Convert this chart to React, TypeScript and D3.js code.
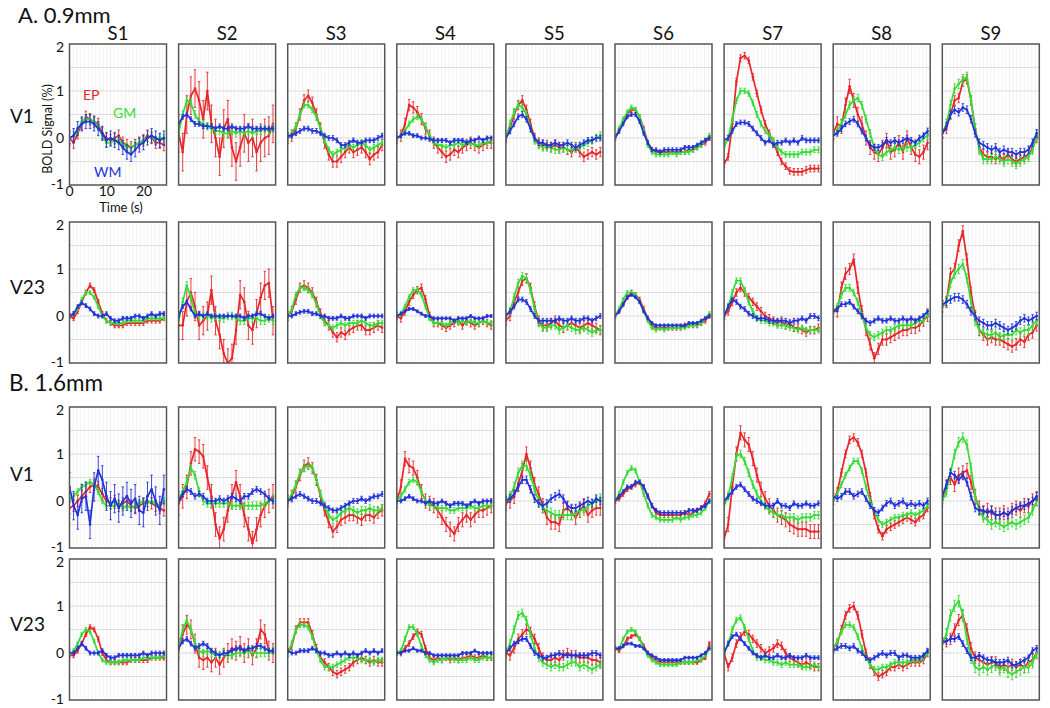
import React from "react";
import * as d3 from "d3";

// ---------- data ----------
const TIME = [0, 1.1, 2.2, 3.3, 4.4, 5.5, 6.6, 7.7, 8.8, 9.9, 11, 12.1, 13.2, 14.3, 15.4, 16.5, 17.6, 18.7, 19.8, 20.9, 22, 23.1, 24.2, 25.3];
const SUBJECTS = ["S1", "S2", "S3", "S4", "S5", "S6", "S7", "S8", "S9"];
const ROW_LABELS = ["V1", "V23", "V1", "V23"];
const SECTIONS = ["A. 0.9mm", "B. 1.6mm"];
const Y_TICKS = [2, 1, 0, -1];
const X_TICKS = [0, 10, 20];
const SERIES_NAMES = ["EP", "GM", "WM"];

const A_V1_EP = [
  [0, -0.1, 0.1, 0.3, 0.45, 0.4, 0.35, 0.3, 0.1, 0, -0.05, 0, 0.05, -0.1, -0.15, -0.2, -0.15, -0.1, -0.05, 0.05, 0, -0.1, -0.1, -0.15],
  [0.1, -0.3, 0.5, 0.9, 1.05, 0.8, 0.4, 1.0, 0.3, 0.0, -0.4, 0.2, 0.4, -0.2, -0.5, -0.2, 0.1, -0.1, 0.0, -0.3, -0.1, 0.0, 0.05, 0.3],
  [0, 0.05, 0.2, 0.5, 0.8, 0.9, 0.75, 0.5, 0.2, -0.1, -0.35, -0.5, -0.5, -0.4, -0.3, -0.2, -0.3, -0.25, -0.2, -0.3, -0.45, -0.35, -0.3, -0.15],
  [0, 0.05, 0.3, 0.7, 0.65, 0.55, 0.4, 0.2, 0.05, -0.1, -0.2, -0.3, -0.4, -0.35, -0.25, -0.3, -0.2, -0.15, -0.1, -0.15, -0.2, -0.15, -0.1, -0.1],
  [0, 0.2, 0.5, 0.7, 0.8, 0.6, 0.3, 0.0, -0.1, -0.15, -0.15, -0.2, -0.15, -0.2, -0.2, -0.25, -0.3, -0.2, -0.3, -0.4, -0.35, -0.3, -0.35, -0.3],
  [0, 0.15, 0.35, 0.5, 0.6, 0.6, 0.45, 0.2, -0.1, -0.25, -0.3, -0.3, -0.3, -0.3, -0.3, -0.3, -0.3, -0.3, -0.25, -0.25, -0.2, -0.15, -0.1, 0.0],
  [-0.55, -0.4, 0.3, 1.2, 1.7, 1.75, 1.65, 1.3, 0.95, 0.6, 0.3, 0.1, -0.1, -0.3, -0.5, -0.6, -0.7, -0.72, -0.72, -0.72, -0.68, -0.65, -0.65, -0.65],
  [0.1, 0.3, 0.25, 0.7, 1.1, 0.8, 0.5, 0.3, 0.0, -0.2, -0.3, -0.35, -0.2, -0.05, -0.3, -0.25, -0.1, -0.3, 0.0, -0.2, -0.35, -0.4, -0.3, -0.1],
  [0.1, 0.2, 0.5, 0.8, 0.85, 1.2, 1.25, 0.8, 0.2, -0.2, -0.35, -0.4, -0.4, -0.45, -0.4, -0.45, -0.35, -0.45, -0.5, -0.45, -0.4, -0.35, -0.2, 0.0],
];
const A_V1_GM = [
  [0, 0.05, 0.15, 0.35, 0.4, 0.4, 0.35, 0.25, 0.05, -0.1, -0.1, -0.05, -0.05, -0.15, -0.2, -0.2, -0.15, -0.1, -0.05, 0, 0.05, -0.05, 0, 0],
  [0.1, 0.5, 0.8, 0.75, 0.5, 0.35, 0.3, 0.25, 0.2, 0.15, 0.15, 0.1, 0.1, 0.15, 0.1, 0.15, 0.1, 0.15, 0.1, 0.15, 0.15, 0.2, 0.15, 0.2],
  [0, 0.1, 0.25, 0.5, 0.7, 0.7, 0.6, 0.45, 0.2, -0.05, -0.25, -0.35, -0.3, -0.25, -0.2, -0.15, -0.2, -0.15, -0.1, -0.15, -0.25, -0.2, -0.15, -0.1],
  [0, 0.05, 0.15, 0.3, 0.4, 0.45, 0.4, 0.25, 0.05, -0.1, -0.15, -0.15, -0.2, -0.15, -0.15, -0.1, -0.15, -0.1, -0.1, -0.15, -0.15, -0.1, -0.1, -0.05],
  [0, 0.3, 0.55, 0.7, 0.65, 0.5, 0.2, -0.05, -0.15, -0.2, -0.2, -0.2, -0.25, -0.25, -0.2, -0.25, -0.25, -0.2, -0.2, -0.15, -0.1, -0.05, 0, 0.05],
  [0, 0.2, 0.4, 0.55, 0.65, 0.6, 0.45, 0.15, -0.15, -0.3, -0.35, -0.35, -0.35, -0.35, -0.3, -0.35, -0.3, -0.3, -0.3, -0.25, -0.2, -0.15, -0.05, 0.05],
  [-0.2, 0.0, 0.4, 0.8, 1.0, 1.0, 0.95, 0.75, 0.5, 0.3, 0.15, 0.05, -0.05, -0.2, -0.3, -0.35, -0.35, -0.35, -0.35, -0.3, -0.3, -0.3, -0.25, -0.25],
  [0.05, 0.15, 0.3, 0.5, 0.7, 0.8, 0.85, 0.7, 0.4, 0.1, -0.2, -0.35, -0.4, -0.3, -0.25, -0.2, -0.25, -0.2, -0.2, -0.2, -0.15, -0.1, 0.0, 0.05],
  [0.1, 0.3, 0.7, 1.05, 1.15, 1.25, 1.3, 0.8, 0.2, -0.25, -0.45, -0.45, -0.45, -0.4, -0.45, -0.5, -0.45, -0.5, -0.55, -0.5, -0.45, -0.4, -0.25, 0.05],
];
const A_V1_WM = [
  [0, 0.05, 0.2, 0.3, 0.35, 0.35, 0.3, 0.2, 0.1, -0.05, 0, -0.05, -0.1, -0.2, -0.3, -0.35, -0.25, -0.15, -0.1, 0, 0.05, 0, -0.05, 0],
  [0.3, 0.45, 0.5, 0.4, 0.3, 0.3, 0.25, 0.25, 0.25, 0.2, 0.25, 0.2, 0.2, 0.25, 0.2, 0.2, 0.2, 0.25, 0.2, 0.2, 0.2, 0.2, 0.2, 0.2],
  [0.05, 0.05, 0.1, 0.15, 0.2, 0.2, 0.15, 0.15, 0.1, 0.05, 0.0, 0.0, -0.05, -0.15, -0.15, -0.1, -0.05, -0.1, -0.1, -0.05, -0.05, -0.05, 0.0, 0.05],
  [0, 0.05, 0.1, 0.1, 0.05, 0.05, 0.0, 0.0, -0.02, -0.05, -0.05, -0.05, -0.05, -0.1, -0.05, -0.05, -0.05, -0.1, -0.05, -0.05, 0, -0.05, 0, 0],
  [0, 0.15, 0.3, 0.45, 0.5, 0.4, 0.2, 0.0, -0.1, -0.1, -0.15, -0.15, -0.1, -0.15, -0.15, -0.1, -0.15, -0.2, -0.15, -0.1, -0.05, -0.05, 0, 0],
  [0, 0.15, 0.3, 0.45, 0.5, 0.5, 0.35, 0.1, -0.1, -0.25, -0.25, -0.3, -0.25, -0.25, -0.25, -0.25, -0.25, -0.2, -0.2, -0.2, -0.15, -0.1, -0.05, 0.0],
  [-0.05, 0.0, 0.15, 0.3, 0.33, 0.33, 0.3, 0.2, 0.1, 0.0, -0.1, -0.05, -0.15, -0.1, -0.1, -0.05, -0.1, -0.05, -0.1, 0.0, -0.05, -0.05, -0.05, -0.05],
  [0.05, 0.1, 0.2, 0.3, 0.35, 0.4, 0.3, 0.15, 0.0, -0.15, -0.2, -0.2, -0.15, -0.05, -0.1, -0.05, -0.1, -0.05, 0.0, -0.05, -0.1, 0.0, 0.05, 0.15],
  [0.1, 0.25, 0.5, 0.6, 0.55, 0.65, 0.6, 0.4, 0.1, -0.1, -0.15, -0.2, -0.25, -0.2, -0.3, -0.25, -0.3, -0.3, -0.35, -0.3, -0.3, -0.25, -0.1, 0.1],
];

const A_V23_EP = [
  [0, -0.05, 0.1, 0.3, 0.5, 0.65, 0.55, 0.3, 0.05, -0.1, -0.15, -0.2, -0.2, -0.2, -0.15, -0.15, -0.15, -0.15, -0.15, -0.1, -0.1, -0.1, -0.1, -0.05],
  [-0.2, -0.2, 0.3, 0.5, 0.2, -0.2, -0.1, 0.0, 0.55, -0.1, -0.4, -0.8, -1.0, -0.9, -0.3, 0.45, 0.3, -0.2, -0.3, 0.05, 0.4, 0.65, 0.7, -0.1],
  [0, 0.1, 0.35, 0.6, 0.65, 0.6, 0.5, 0.3, 0.05, -0.1, -0.2, -0.35, -0.45, -0.35, -0.4, -0.3, -0.25, -0.2, -0.2, -0.3, -0.3, -0.25, -0.2, -0.25],
  [0, -0.05, 0.1, 0.3, 0.45, 0.55, 0.6, 0.35, 0.0, -0.15, -0.15, -0.2, -0.25, -0.2, -0.15, -0.1, -0.2, -0.1, -0.15, -0.2, -0.15, -0.1, -0.15, -0.2],
  [-0.1, 0.0, 0.3, 0.5, 0.75, 0.8, 0.6, 0.2, -0.1, -0.2, -0.2, -0.15, -0.1, -0.2, -0.25, -0.2, -0.15, -0.2, -0.25, -0.2, -0.15, -0.2, -0.25, -0.3],
  [0, 0.1, 0.25, 0.4, 0.5, 0.45, 0.35, 0.15, -0.05, -0.2, -0.25, -0.25, -0.25, -0.25, -0.25, -0.25, -0.25, -0.2, -0.2, -0.2, -0.2, -0.15, -0.1, 0.0],
  [0, 0.1, 0.3, 0.5, 0.6, 0.5, 0.4, 0.3, 0.2, 0.1, 0.0, -0.05, -0.1, -0.15, -0.1, -0.2, -0.15, -0.25, -0.25, -0.3, -0.35, -0.3, -0.3, -0.25],
  [0.1, 0.1, 0.6, 0.9, 1.0, 1.2, 0.6, 0.1, -0.3, -0.6, -0.9, -0.7, -0.5, -0.5, -0.45, -0.4, -0.35, -0.3, -0.3, -0.25, -0.25, -0.2, -0.1, 0.0],
  [0.2, 0.3, 0.9, 1.0, 1.5, 1.8, 1.2, 0.5, 0.0, -0.3, -0.4, -0.5, -0.45, -0.5, -0.5, -0.55, -0.6, -0.65, -0.6, -0.5, -0.55, -0.4, -0.35, -0.2],
];
const A_V23_GM = [
  [0, 0.05, 0.15, 0.35, 0.5, 0.5, 0.4, 0.2, 0.0, -0.1, -0.15, -0.15, -0.15, -0.15, -0.1, -0.1, -0.1, -0.1, -0.1, -0.05, -0.05, -0.05, -0.05, -0.05],
  [-0.1, 0.3, 0.65, 0.4, 0.05, 0, 0, 0, -0.05, 0, -0.05, -0.05, 0, 0, -0.05, -0.1, -0.1, -0.05, -0.05, -0.05, -0.1, -0.1, -0.05, -0.1],
  [0, 0.15, 0.45, 0.6, 0.6, 0.55, 0.45, 0.25, 0.0, -0.15, -0.2, -0.25, -0.2, -0.15, -0.2, -0.15, -0.15, -0.15, -0.1, -0.15, -0.2, -0.2, -0.15, -0.15],
  [0, 0.05, 0.2, 0.4, 0.55, 0.55, 0.45, 0.2, -0.05, -0.15, -0.15, -0.15, -0.2, -0.15, -0.1, -0.15, -0.1, -0.15, -0.1, -0.15, -0.15, -0.1, -0.15, -0.15],
  [0, 0.1, 0.4, 0.7, 0.85, 0.8, 0.55, 0.15, -0.15, -0.25, -0.25, -0.2, -0.2, -0.3, -0.25, -0.2, -0.25, -0.3, -0.3, -0.25, -0.3, -0.35, -0.3, -0.3],
  [0, 0.15, 0.35, 0.5, 0.5, 0.45, 0.3, 0.1, -0.1, -0.25, -0.3, -0.25, -0.3, -0.25, -0.25, -0.25, -0.25, -0.25, -0.2, -0.2, -0.2, -0.15, -0.05, 0.05],
  [0, 0.2, 0.5, 0.75, 0.75, 0.55, 0.3, 0.1, -0.05, -0.1, -0.1, -0.15, -0.15, -0.2, -0.2, -0.2, -0.25, -0.25, -0.3, -0.25, -0.3, -0.3, -0.3, -0.3],
  [0.1, 0.2, 0.45, 0.6, 0.6, 0.5, 0.3, 0.0, -0.25, -0.4, -0.45, -0.4, -0.35, -0.3, -0.3, -0.25, -0.2, -0.2, -0.2, -0.2, -0.15, -0.1, -0.1, 0.05],
  [0.2, 0.3, 0.7, 0.9, 1.0, 1.1, 0.8, 0.3, -0.1, -0.3, -0.35, -0.4, -0.4, -0.35, -0.45, -0.4, -0.4, -0.4, -0.3, -0.35, -0.3, -0.3, -0.2, -0.1],
];
const A_V23_WM = [
  [0, 0.05, 0.2, 0.28, 0.22, 0.15, 0.05, 0.0, 0.0, 0.05, -0.05, -0.1, -0.1, -0.05, -0.05, -0.05, 0, 0, -0.05, 0, 0.05, 0, 0.05, 0.05],
  [0, 0.2, 0.3, 0.15, 0.0, 0.05, 0, 0.05, 0, 0, 0, 0, 0, 0, 0, 0, -0.05, 0, 0, 0.05, 0.05, 0, -0.05, 0],
  [0, 0.0, 0.05, 0.08, 0.1, 0.1, 0.05, 0.05, 0.0, 0.0, -0.05, -0.05, -0.05, 0, -0.05, -0.05, 0, 0, 0, -0.05, 0, 0, 0, 0],
  [0, 0.05, 0.1, 0.15, 0.15, 0.1, 0.05, 0.0, 0, -0.05, -0.05, -0.05, -0.05, -0.05, -0.1, -0.05, -0.05, -0.05, 0, -0.05, -0.05, -0.05, 0, 0],
  [0, 0.1, 0.2, 0.35, 0.35, 0.3, 0.15, 0.0, -0.1, -0.1, -0.1, -0.1, -0.1, -0.05, -0.1, -0.1, -0.05, -0.1, -0.1, -0.05, -0.05, -0.1, -0.05, 0],
  [0, 0.1, 0.25, 0.4, 0.45, 0.4, 0.3, 0.1, -0.05, -0.15, -0.2, -0.2, -0.2, -0.2, -0.2, -0.2, -0.2, -0.2, -0.15, -0.15, -0.15, -0.1, -0.05, 0.0],
  [0, 0.2, 0.35, 0.3, 0.2, 0.15, 0.05, 0.0, -0.05, -0.05, -0.05, -0.1, -0.1, -0.1, -0.1, -0.1, -0.15, -0.1, -0.1, -0.05, -0.1, 0, 0, -0.05],
  [0.1, 0.15, 0.25, 0.25, 0.3, 0.2, 0.1, 0.0, -0.1, -0.15, -0.1, -0.05, -0.1, -0.1, -0.05, -0.1, -0.1, -0.05, -0.1, -0.05, -0.1, -0.05, 0, 0.1],
  [0.25, 0.3, 0.35, 0.4, 0.4, 0.35, 0.25, 0.1, 0.0, -0.1, -0.15, -0.2, -0.2, -0.15, -0.2, -0.25, -0.3, -0.25, -0.2, -0.1, -0.05, -0.1, -0.05, 0.0],
];

const B_V1_EP = [
  [-0.15, -0.1, 0.0, 0.1, 0.2, 0.3, 0.35, 0.3, 0.15, 0.0, -0.05, 0.0, -0.1, -0.05, 0.0, -0.1, -0.15, -0.1, -0.05, 0.0, -0.05, -0.1, -0.15, -0.2],
  [-0.05, 0.1, 0.3, 0.8, 1.1, 1.05, 0.95, 0.5, 0.1, -0.5, -0.8, -0.6, -0.2, 0.1, 0.4, 0.1, -0.3, -0.6, -0.9, -0.6, -0.3, -0.1, 0.0, 0.1],
  [0, 0.1, 0.3, 0.55, 0.75, 0.8, 0.7, 0.45, 0.1, -0.2, -0.45, -0.65, -0.55, -0.4, -0.35, -0.3, -0.3, -0.35, -0.4, -0.3, -0.3, -0.35, -0.25, -0.2],
  [0.0, 0.3, 0.9, 0.75, 0.7, 0.5, 0.2, 0.0, -0.05, -0.1, -0.2, -0.35, -0.5, -0.6, -0.7, -0.5, -0.4, -0.3, -0.4, -0.3, -0.2, -0.2, -0.15, -0.1],
  [-0.05, 0.0, 0.1, 0.35, 0.65, 1.0, 0.7, 0.35, 0.15, -0.1, -0.35, -0.45, -0.45, -0.5, -0.2, -0.15, -0.25, -0.35, -0.2, -0.1, -0.3, -0.2, -0.15, -0.15],
  [0.0, 0.05, 0.15, 0.25, 0.3, 0.35, 0.4, 0.3, 0.1, -0.1, -0.25, -0.3, -0.3, -0.3, -0.3, -0.3, -0.3, -0.25, -0.3, -0.25, -0.2, -0.15, -0.05, 0.15],
  [-0.8, -0.5, 0.3, 1.0, 1.45, 1.3, 1.2, 0.9, 0.55, 0.25, 0.05, -0.1, -0.2, -0.3, -0.35, -0.4, -0.5, -0.55, -0.6, -0.6, -0.6, -0.65, -0.65, -0.65],
  [0.0, 0.2, 0.6, 1.0, 1.3, 1.35, 1.25, 1.0, 0.6, 0.1, -0.3, -0.6, -0.75, -0.6, -0.55, -0.5, -0.45, -0.4, -0.35, -0.4, -0.45, -0.35, -0.3, -0.15],
  [0.1, 0.3, 0.5, 0.35, 0.55, 0.6, 0.65, 0.4, 0.1, -0.15, -0.25, -0.2, -0.25, -0.3, -0.3, -0.25, -0.3, -0.2, -0.15, -0.2, -0.1, -0.1, 0.0, 0.05],
];
const B_V1_GM = [
  [0.05, 0.1, 0.2, 0.3, 0.35, 0.4, 0.35, 0.2, 0.0, -0.1, -0.1, -0.1, -0.05, -0.15, -0.1, -0.15, -0.1, -0.05, 0.0, -0.05, 0.0, -0.05, -0.1, 0.0],
  [0.05, 0.2, 0.4, 0.7, 0.55, 0.2, 0.0, -0.05, -0.05, -0.05, -0.05, -0.05, -0.05, -0.1, -0.1, -0.1, -0.1, -0.1, -0.1, -0.1, -0.1, -0.05, 0.0, 0.05],
  [0.0, 0.15, 0.35, 0.6, 0.7, 0.75, 0.7, 0.45, 0.15, -0.1, -0.3, -0.4, -0.35, -0.25, -0.2, -0.15, -0.2, -0.25, -0.2, -0.2, -0.15, -0.2, -0.2, -0.15],
  [0.0, 0.1, 0.25, 0.4, 0.45, 0.4, 0.2, 0.0, -0.1, -0.1, -0.15, -0.15, -0.15, -0.2, -0.2, -0.15, -0.15, -0.15, -0.1, -0.15, -0.15, -0.1, -0.1, -0.1],
  [0.0, 0.1, 0.3, 0.6, 0.75, 0.75, 0.55, 0.25, 0.0, -0.15, -0.2, -0.25, -0.3, -0.3, -0.3, -0.3, -0.3, -0.25, -0.2, -0.2, -0.1, -0.05, 0.0, 0.05],
  [0.0, 0.15, 0.4, 0.6, 0.7, 0.65, 0.4, 0.15, -0.1, -0.3, -0.35, -0.4, -0.4, -0.4, -0.4, -0.35, -0.4, -0.35, -0.35, -0.3, -0.3, -0.25, -0.15, 0.0],
  [-0.1, 0.1, 0.5, 0.95, 1.0, 0.85, 0.6, 0.35, 0.15, 0.0, -0.1, -0.2, -0.25, -0.3, -0.3, -0.35, -0.35, -0.35, -0.4, -0.35, -0.35, -0.35, -0.3, -0.3],
  [0.0, 0.15, 0.35, 0.55, 0.7, 0.85, 0.85, 0.65, 0.3, 0.0, -0.2, -0.4, -0.5, -0.45, -0.4, -0.35, -0.35, -0.3, -0.3, -0.25, -0.3, -0.25, -0.2, -0.1],
  [0.0, 0.2, 0.6, 1.0, 1.25, 1.35, 1.2, 0.7, 0.1, -0.2, -0.35, -0.4, -0.5, -0.45, -0.5, -0.55, -0.5, -0.45, -0.5, -0.45, -0.4, -0.35, -0.2, 0.0],
];
const B_V1_WM = [
  [0.3, -0.1, -0.3, 0.05, 0.1, -0.5, 0.3, 0.65, 0.45, 0.1, -0.1, 0.05, -0.15, 0.0, 0.1, -0.05, 0.05, -0.2, -0.25, 0.1, 0.25, 0.0, -0.2, 0.25],
  [0.0, 0.15, 0.25, 0.2, 0.1, 0.15, 0.1, 0.0, 0.0, 0.0, 0.05, 0.0, 0.05, 0.1, 0.05, 0.0, 0.1, 0.1, 0.2, 0.25, 0.2, 0.15, 0.05, 0.0],
  [0, 0.05, 0.1, 0.15, 0.1, 0.05, 0.0, 0.0, -0.05, -0.1, -0.15, -0.2, -0.2, -0.15, -0.1, -0.05, 0.0, 0.0, 0.05, 0.0, 0.05, 0.1, 0.1, 0.15],
  [0.0, 0.0, 0.05, 0.1, 0.05, 0.0, 0.0, -0.05, 0, -0.05, -0.05, 0.0, -0.05, -0.1, -0.05, -0.05, -0.05, -0.1, -0.05, 0, -0.05, 0, 0, 0.0],
  [0.0, 0.05, 0.15, 0.3, 0.45, 0.45, 0.25, 0.05, -0.05, -0.1, -0.05, 0.05, 0.1, 0.15, 0.05, -0.1, -0.15, -0.15, -0.1, -0.05, 0.0, -0.05, 0.05, 0.0],
  [0.0, 0.1, 0.2, 0.3, 0.3, 0.4, 0.4, 0.3, 0.1, -0.1, -0.2, -0.25, -0.25, -0.25, -0.25, -0.25, -0.25, -0.25, -0.2, -0.2, -0.2, -0.15, -0.1, 0.0],
  [0.0, 0.1, 0.2, 0.3, 0.35, 0.25, 0.15, 0.05, 0.0, -0.05, -0.1, -0.1, -0.1, 0.0, -0.1, -0.1, -0.15, -0.05, -0.1, -0.1, -0.05, -0.1, -0.1, -0.05],
  [0.1, 0.05, 0.1, 0.2, 0.2, 0.1, 0.15, 0.2, 0.05, -0.1, -0.2, -0.25, -0.15, -0.05, 0.0, -0.1, -0.05, 0.0, -0.1, -0.05, -0.1, -0.05, -0.1, 0.0],
  [0.1, 0.35, 0.6, 0.55, 0.45, 0.55, 0.4, 0.1, -0.15, -0.2, -0.2, -0.25, -0.2, -0.3, -0.3, -0.25, -0.3, -0.2, -0.15, -0.1, -0.1, -0.05, 0.0, 0.1],
];

const B_V23_EP = [
  [-0.05, -0.05, 0.05, 0.2, 0.4, 0.55, 0.5, 0.3, 0.0, -0.15, -0.2, -0.2, -0.2, -0.2, -0.2, -0.15, -0.15, -0.15, -0.15, -0.15, -0.1, -0.1, -0.1, -0.1],
  [0.1, 0.4, 0.6, 0.5, 0.2, -0.1, -0.15, -0.1, -0.2, -0.1, -0.25, -0.1, 0.0, 0.1, 0.05, 0.15, 0.0, 0.1, -0.05, 0.1, 0.5, 0.4, 0.05, 0.0],
  [0.0, 0.15, 0.5, 0.65, 0.65, 0.65, 0.4, 0.1, -0.1, -0.2, -0.3, -0.4, -0.45, -0.4, -0.35, -0.3, -0.2, -0.15, -0.1, -0.15, -0.2, -0.15, -0.2, -0.2],
  [0.0, 0.0, 0.1, 0.2, 0.35, 0.45, 0.4, 0.1, -0.1, -0.15, -0.1, -0.15, -0.1, -0.15, -0.1, -0.15, -0.1, -0.1, -0.05, -0.1, -0.1, -0.05, -0.1, -0.1],
  [0.0, -0.05, 0.1, 0.3, 0.4, 0.5, 0.45, 0.3, 0.1, -0.1, -0.15, -0.15, -0.1, -0.15, -0.05, 0.0, -0.05, -0.05, -0.1, -0.1, -0.1, -0.15, -0.15, -0.2],
  [0.1, 0.05, 0.15, 0.3, 0.35, 0.4, 0.3, 0.15, 0.0, -0.1, -0.15, -0.2, -0.2, -0.2, -0.2, -0.2, -0.2, -0.2, -0.2, -0.2, -0.2, -0.15, -0.1, 0.2],
  [0.0, -0.3, -0.1, 0.2, 0.35, 0.45, 0.4, 0.3, 0.2, 0.1, 0.0, 0.05, 0.1, 0.2, 0.15, 0.0, -0.1, -0.15, -0.2, -0.25, -0.2, -0.25, -0.3, -0.3],
  [0.1, 0.2, 0.5, 0.8, 0.95, 1.0, 0.8, 0.4, 0.0, -0.25, -0.4, -0.5, -0.45, -0.4, -0.3, -0.3, -0.25, -0.3, -0.25, -0.2, -0.2, -0.2, -0.15, 0.0],
  [0.2, 0.25, 0.3, 0.5, 0.7, 0.8, 0.5, 0.1, -0.1, -0.15, -0.2, -0.25, -0.2, -0.2, -0.3, -0.25, -0.3, -0.25, -0.3, -0.25, -0.3, -0.2, -0.15, 0.0],
];
const B_V23_GM = [
  [-0.05, 0.05, 0.2, 0.4, 0.5, 0.45, 0.25, 0.0, -0.15, -0.2, -0.2, -0.2, -0.2, -0.15, -0.15, -0.15, -0.15, -0.15, -0.1, -0.1, -0.1, -0.1, -0.1, -0.05],
  [0.1, 0.5, 0.7, 0.5, 0.2, 0.05, 0.0, 0.05, 0.0, -0.05, -0.05, 0.0, -0.05, -0.05, 0.0, 0.0, 0.0, 0.05, 0.0, 0.0, 0.0, 0.0, 0.0, 0.05],
  [0.0, 0.2, 0.5, 0.6, 0.6, 0.55, 0.35, 0.05, -0.15, -0.3, -0.3, -0.3, -0.25, -0.2, -0.15, -0.1, -0.1, -0.1, -0.15, -0.15, -0.15, -0.2, -0.15, -0.15],
  [0.0, 0.05, 0.3, 0.55, 0.55, 0.4, 0.15, -0.05, -0.15, -0.2, -0.15, -0.15, -0.1, -0.1, -0.15, -0.15, -0.15, -0.15, -0.1, -0.15, -0.15, -0.1, -0.1, -0.1],
  [0.0, 0.2, 0.5, 0.8, 0.85, 0.7, 0.4, 0.1, -0.1, -0.2, -0.25, -0.3, -0.25, -0.3, -0.3, -0.25, -0.2, -0.2, -0.3, -0.25, -0.3, -0.35, -0.3, -0.25],
  [0.1, 0.1, 0.3, 0.45, 0.5, 0.45, 0.3, 0.1, -0.05, -0.15, -0.2, -0.25, -0.25, -0.25, -0.25, -0.25, -0.2, -0.2, -0.2, -0.2, -0.15, -0.15, -0.05, 0.1],
  [0.0, 0.2, 0.5, 0.7, 0.75, 0.55, 0.3, 0.05, -0.1, -0.1, -0.15, -0.15, -0.2, -0.2, -0.25, -0.2, -0.25, -0.25, -0.25, -0.3, -0.3, -0.3, -0.25, -0.3],
  [0.1, 0.25, 0.45, 0.6, 0.6, 0.55, 0.35, 0.1, -0.1, -0.25, -0.35, -0.35, -0.3, -0.3, -0.25, -0.2, -0.2, -0.2, -0.2, -0.15, -0.15, -0.15, -0.1, 0.0],
  [0.2, 0.4, 0.8, 1.0, 1.1, 0.8, 0.3, -0.1, -0.3, -0.35, -0.3, -0.35, -0.3, -0.25, -0.35, -0.3, -0.4, -0.45, -0.4, -0.35, -0.3, -0.3, -0.2, 0.0],
];
const B_V23_WM = [
  [0.0, 0.0, 0.1, 0.2, 0.1, 0.0, 0.0, 0.0, 0.05, -0.05, -0.1, -0.1, -0.05, -0.05, -0.05, -0.05, -0.05, -0.05, 0, -0.05, 0, 0, 0, 0],
  [0.1, 0.25, 0.3, 0.2, 0.1, 0.15, 0.2, 0.15, 0.05, 0.0, -0.05, 0.0, 0.0, 0.05, 0.1, 0.1, 0.05, 0.1, 0.1, 0.15, 0.15, 0.1, 0.05, 0.05],
  [0.05, 0.0, 0.0, 0.05, 0.05, 0.05, 0.1, 0.05, 0.0, 0.0, -0.05, -0.05, 0.0, -0.05, 0.0, -0.05, 0.0, -0.05, 0.0, 0.05, 0.0, 0.05, 0.0, 0.05],
  [0.0, 0.0, 0.05, 0.05, 0.1, 0.05, 0.05, 0.0, 0.0, -0.05, -0.05, -0.05, -0.05, -0.05, -0.05, -0.05, 0.0, 0.0, 0.0, 0.05, 0.0, 0.0, 0.0, 0.0],
  [0.0, 0.1, 0.2, 0.25, 0.3, 0.3, 0.15, 0.0, -0.05, -0.1, -0.1, -0.05, -0.05, 0.0, -0.05, -0.05, -0.05, -0.05, -0.05, -0.05, -0.05, 0.0, 0.0, -0.05],
  [0.1, 0.1, 0.15, 0.2, 0.2, 0.15, 0.15, 0.1, 0.0, -0.05, -0.1, -0.15, -0.15, -0.15, -0.15, -0.15, -0.15, -0.1, -0.1, -0.1, -0.1, -0.05, 0.0, 0.1],
  [0.0, 0.2, 0.35, 0.4, 0.3, 0.2, 0.1, 0.0, -0.05, -0.1, -0.05, -0.1, -0.1, -0.05, -0.1, -0.1, -0.05, -0.1, -0.1, -0.1, -0.05, -0.1, -0.1, -0.1],
  [0.05, 0.1, 0.15, 0.15, 0.1, 0.15, 0.05, 0.0, -0.1, -0.15, -0.1, -0.05, 0.0, -0.05, 0.0, 0.0, -0.1, -0.05, -0.05, -0.1, -0.1, -0.1, -0.05, 0.05],
  [0.25, 0.25, 0.3, 0.3, 0.35, 0.2, 0.05, -0.1, -0.1, -0.05, -0.1, -0.15, -0.15, -0.2, -0.2, -0.2, -0.15, -0.25, -0.25, -0.2, -0.15, -0.1, 0.05, 0.1],
];

// error-bar half heights (SEM), one per row (4) x subject (9)
const ERR_EP = [
  [0.12, 0.4, 0.12, 0.12, 0.1, 0.05, 0.07, 0.15, 0.1],
  [0.05, 0.3, 0.1, 0.08, 0.1, 0.05, 0.08, 0.12, 0.12],
  [0.12, 0.25, 0.12, 0.15, 0.15, 0.05, 0.15, 0.08, 0.15],
  [0.05, 0.2, 0.08, 0.06, 0.1, 0.04, 0.08, 0.08, 0.12],
];
const ERR_GM = [
  [0.08, 0.08, 0.06, 0.06, 0.08, 0.05, 0.06, 0.08, 0.1],
  [0.04, 0.08, 0.06, 0.05, 0.08, 0.04, 0.06, 0.07, 0.1],
  [0.06, 0.08, 0.08, 0.06, 0.1, 0.05, 0.08, 0.06, 0.1],
  [0.04, 0.08, 0.06, 0.05, 0.08, 0.04, 0.06, 0.06, 0.12],
];
const ERR_WM = [
  [0.15, 0.05, 0.05, 0.04, 0.06, 0.04, 0.05, 0.06, 0.08],
  [0.04, 0.04, 0.04, 0.03, 0.05, 0.03, 0.05, 0.05, 0.08],
  [0.3, 0.06, 0.05, 0.04, 0.08, 0.04, 0.05, 0.06, 0.08],
  [0.04, 0.05, 0.04, 0.03, 0.05, 0.03, 0.04, 0.05, 0.06],
];

// ---------- styling / layout ----------
const COLORS: Record<string, string> = { EP: "#e8262a", GM: "#35dc35", WM: "#2233d8" };
const FONT = "Lato, 'Open Sans', sans-serif";
const WIDTH = 1050;
const HEIGHT = 708;
const COL_X0 = 69.5;
const COL_STEP = 109.1;
const PANEL_W = 97;
const ROW_TOPS = [44, 222, 407, 559];
const PANEL_H = 141;
const ROW_LABEL_BASE = [123, 294, 481, 631];

const ROW_DATA = [
  { EP: A_V1_EP, GM: A_V1_GM, WM: A_V1_WM },
  { EP: A_V23_EP, GM: A_V23_GM, WM: A_V23_WM },
  { EP: B_V1_EP, GM: B_V1_GM, WM: B_V1_WM },
  { EP: B_V23_EP, GM: B_V23_GM, WM: B_V23_WM },
];
const ERRS: Record<string, number[][]> = { EP: ERR_EP, GM: ERR_GM, WM: ERR_WM };

function Panel({ r, c }: { r: number; c: number }) {
  const left = COL_X0 + c * COL_STEP;
  const top = ROW_TOPS[r];
  const x = d3.scaleLinear().domain([0, 26]).range([left, left + PANEL_W]);
  const y = d3.scaleLinear().domain([-1, 2]).range([top + PANEL_H, top]);
  const line = d3
    .line<number>()
    .x((_, i) => x(TIME[i]))
    .y((v) => y(v));
  const clipId = `clip-${r}-${c}`;
  const vGrid = d3.range(1, 26);
  const hGrid = [-0.5, 0, 0.5, 1, 1.5];
  return (
    <g>
      <defs>
        <clipPath id={clipId}>
          <rect x={left} y={top} width={PANEL_W} height={PANEL_H} />
        </clipPath>
      </defs>
      <rect x={left} y={top} width={PANEL_W} height={PANEL_H} fill="#fff" />
      {vGrid.map((g) => (
        <line key={"v" + g} x1={x(g)} x2={x(g)} y1={top} y2={top + PANEL_H} stroke="#ebebeb" strokeWidth={0.7} />
      ))}
      {hGrid.map((g) => (
        <line key={"h" + g} x1={left} x2={left + PANEL_W} y1={y(g)} y2={y(g)} stroke="#d9d9d9" strokeWidth={0.9} />
      ))}
      <g clipPath={`url(#${clipId})`}>
        {SERIES_NAMES.map((s) => {
          const vals: number[] = (ROW_DATA[r] as any)[s][c];
          const e = ERRS[s][r][c];
          const col = COLORS[s];
          return (
            <g key={s}>
              {vals.map((v, i) => (
                <g key={i}>
                  <line x1={x(TIME[i])} x2={x(TIME[i])} y1={y(v - e)} y2={y(v + e)} stroke={col} strokeWidth={0.9} />
                  <line x1={x(TIME[i]) - 1.2} x2={x(TIME[i]) + 1.2} y1={y(v + e)} y2={y(v + e)} stroke={col} strokeWidth={0.9} />
                  <line x1={x(TIME[i]) - 1.2} x2={x(TIME[i]) + 1.2} y1={y(v - e)} y2={y(v - e)} stroke={col} strokeWidth={0.9} />
                </g>
              ))}
              <path d={line(vals) || ""} fill="none" stroke={col} strokeWidth={1.7} strokeLinejoin="round" />
              {vals.map((v, i) => (
                <circle key={"m" + i} cx={x(TIME[i])} cy={y(v)} r={1.3} fill={col} />
              ))}
            </g>
          );
        })}
      </g>
      <rect x={left} y={top} width={PANEL_W} height={PANEL_H} fill="none" stroke="#555" strokeWidth={1.5} />
    </g>
  );
}

export default function App() {
  const yFirst = (r: number) =>
    d3.scaleLinear().domain([-1, 2]).range([ROW_TOPS[r] + PANEL_H, ROW_TOPS[r]]);
  const xFirst = d3.scaleLinear().domain([0, 26]).range([COL_X0, COL_X0 + PANEL_W]);
  const tickOffset = (t: number) => (t === 2 ? 8 : t === -1 ? 3.5 : 5);
  return (
    <svg
      width={WIDTH}
      height={HEIGHT}
      viewBox={`0 0 ${WIDTH} ${HEIGHT}`}
      style={{ position: "absolute", left: 0, top: 0, background: "#fff" }}
      fontFamily={FONT}
    >
      <rect x={0} y={0} width={WIDTH} height={HEIGHT} fill="#fff" />
      <text x={18} y={23} fontSize={22} fill="#111">{SECTIONS[0]}</text>
      <text x={9} y={391} fontSize={22.5} fill="#111">{SECTIONS[1]}</text>
      {SUBJECTS.map((s, c) => (
        <text key={s} x={COL_X0 + c * COL_STEP + PANEL_W / 2} y={40} fontSize={18.5} textAnchor="middle" fill="#111">
          {s}
        </text>
      ))}
      {ROW_LABELS.map((l, r) => (
        <text key={r} x={10} y={ROW_LABEL_BASE[r]} fontSize={19} fill="#111">
          {l}
        </text>
      ))}
      {ROW_TOPS.map((_, r) =>
        Y_TICKS.map((t) => (
          <text key={r + "-" + t} x={64} y={yFirst(r)(t) + tickOffset(t)} fontSize={14} textAnchor="end" fill="#111">
            {t}
          </text>
        ))
      )}
      {ROW_TOPS.map((_, r) => SUBJECTS.map((__, c) => <Panel key={r + "-" + c} r={r} c={c} />))}
      {X_TICKS.map((t) => (
        <text key={"xt" + t} x={xFirst(t)} y={196} fontSize={14} textAnchor="middle" fill="#111">
          {t}
        </text>
      ))}
      <text x={121} y={212} fontSize={13} textAnchor="middle" fill="#111">Time (s)</text>
      <text
        transform={`translate(52, 129) rotate(-90)`}
        fontSize={12.5}
        textAnchor="middle"
        fill="#111"
      >
        BOLD Signal (%)
      </text>
      <text x={83} y={100} fontSize={14} fill={COLORS.EP}>EP</text>
      <text x={113} y={118} fontSize={14} fill={COLORS.GM}>GM</text>
      <text x={94} y={177} fontSize={14} fill={COLORS.WM}>WM</text>
    </svg>
  );
}
